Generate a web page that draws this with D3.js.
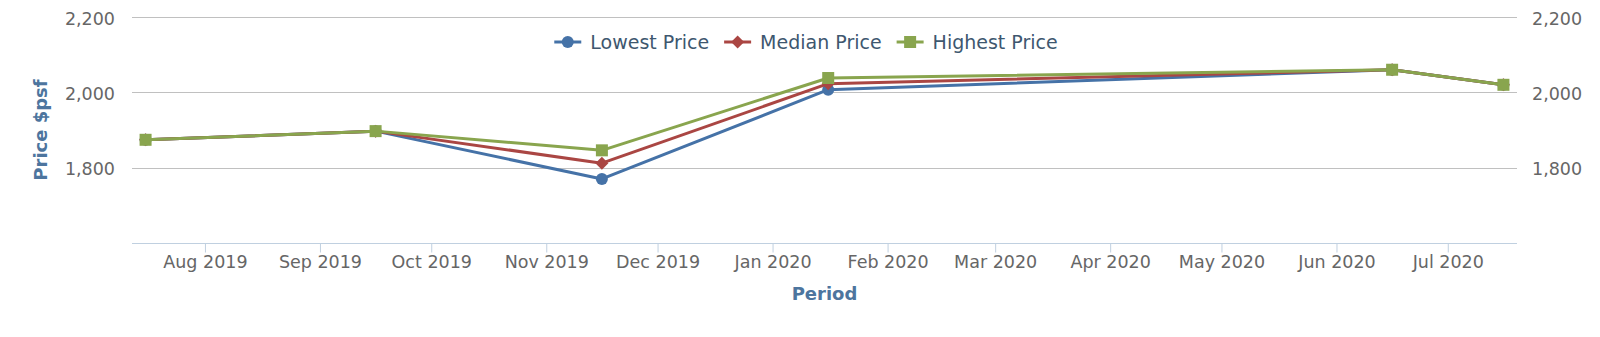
<!DOCTYPE html>
<html>
<head>
<meta charset="utf-8">
<script src="https://cdn.jsdelivr.net/npm/d3@7/dist/d3.min.js"></script>
<style>
  html, body { margin: 0; padding: 0; background: #ffffff; }
  svg { display: block; font-family: "DejaVu Sans", Verdana, sans-serif; }
  svg text { font-family: "DejaVu Sans", Verdana, sans-serif; }
</style>
</head>
<body>
<svg id="chart" width="1600" height="337"></svg>
<script>
// ---- Data ----
const periods = ["2019-07-16", "2019-09-16", "2019-11-16", "2020-01-16", "2020-06-16", "2020-07-16"];
const lowestPrice  = [1874, 1897, 1770, 2007, 2060, 2020];
const medianPrice  = [1874, 1897, 1812, 2023, 2060, 2020];
const highestPrice = [1874, 1897, 1846, 2038, 2060, 2020];
const seriesNames  = ["Lowest Price", "Median Price", "Highest Price"];
const yTicks = [1800, 2000, 2200];
const xTickMonths = ["2019-08-01","2019-09-01","2019-10-01","2019-11-01","2019-12-01","2020-01-01",
                     "2020-02-01","2020-03-01","2020-04-01","2020-05-01","2020-06-01","2020-07-01"];

// ---- Layout ----
const W = 1600, H = 337;
const plot = { left: 132, right: 1517, top: 17, bottom: 243 };
const colors = ["#4572A7", "#AA4643", "#89A54E"];
const markers = ["circle", "diamond", "square"];
const FONT = '"DejaVu Sans", Verdana, sans-serif';

const svg = d3.select("#chart");
const parse = d3.utcParse("%Y-%m-%d");
const dates = periods.map(parse);

const ext = d3.extent(dates);
const pad = (ext[1] - ext[0]) * 0.01;
const x = d3.scaleUtc()
  .domain([new Date(+ext[0] - pad), new Date(+ext[1] + pad)])
  .range([plot.left, plot.right]);
const y = d3.scaleLinear().domain([1600, 2200]).range([plot.bottom, plot.top]);

// gridlines
svg.append("g").selectAll("line").data(yTicks).join("line")
  .attr("x1", plot.left).attr("x2", plot.right)
  .attr("y1", d => Math.round(y(d)) + 0.5).attr("y2", d => Math.round(y(d)) + 0.5)
  .attr("stroke", "#C0C0C0").attr("stroke-width", 1);

// left / right y axis labels
const fmt = d3.format(",");
const yLeft = svg.append("g")
  .attr("transform", `translate(${plot.left - 17},0)`)
  .call(d3.axisLeft(y).tickValues(yTicks).tickFormat(fmt).tickSize(0).tickPadding(0))
  .attr("font-family", FONT).attr("font-size", 17.5);
yLeft.select(".domain").remove();
yLeft.selectAll("text").attr("fill", "#666666").attr("dy", "0.4em");

const yRight = svg.append("g")
  .attr("transform", `translate(${plot.right + 15},0)`)
  .call(d3.axisRight(y).tickValues(yTicks).tickFormat(fmt).tickSize(0).tickPadding(0))
  .attr("font-family", FONT).attr("font-size", 17.5);
yRight.select(".domain").remove();
yRight.selectAll("text").attr("fill", "#666666").attr("dy", "0.4em");

// x axis
const xAxis = svg.append("g")
  .attr("transform", `translate(0,${plot.bottom + 0.5})`)
  .call(d3.axisBottom(x).tickValues(xTickMonths.map(parse)).tickFormat(d3.utcFormat("%b %Y"))
        .tickSize(9).tickSizeOuter(0).tickPadding(3))
  .attr("font-family", FONT).attr("font-size", 17.5);
xAxis.select(".domain").attr("stroke", "#C0D0E0").attr("d", `M${plot.left},0H${plot.right}`);
xAxis.selectAll(".tick line").attr("stroke", "#C0D0E0");
xAxis.selectAll("text").attr("fill", "#666666");

// axis titles
svg.append("text")
  .attr("transform", `translate(47,${(plot.top + plot.bottom) / 2}) rotate(-90)`)
  .attr("text-anchor", "middle")
  .attr("fill", "#4D759E").style("font-weight", "bold").style("font-size", "18px")
  .text("Price $psf");
svg.append("text")
  .attr("x", (plot.left + plot.right) / 2).attr("y", 300)
  .attr("text-anchor", "middle")
  .attr("fill", "#4D759E").style("font-weight", "bold").style("font-size", "18px")
  .text("Period");

// series
const allSeries = [lowestPrice, medianPrice, highestPrice];
const line = d3.line().x(d => x(d.date)).y(d => y(d.value));

function drawMarker(g, type, color, cx, cy) {
  if (type === "circle") {
    g.append("circle").attr("cx", cx).attr("cy", cy).attr("r", 6).attr("fill", color);
  } else if (type === "diamond") {
    g.append("path").attr("d", `M${cx},${cy - 6.5}L${cx + 6.5},${cy}L${cx},${cy + 6.5}L${cx - 6.5},${cy}Z`).attr("fill", color);
  } else {
    g.append("rect").attr("x", cx - 6).attr("y", cy - 6).attr("width", 12).attr("height", 12).attr("fill", color);
  }
}

allSeries.forEach((vals, i) => {
  const pts = vals.map((v, j) => ({ date: dates[j], value: v }));
  const g = svg.append("g");
  g.append("path").datum(pts).attr("d", line)
    .attr("fill", "none").attr("stroke", colors[i]).attr("stroke-width", 3)
    .attr("stroke-linejoin", "round").attr("stroke-linecap", "round");
  pts.forEach(p => drawMarker(g, markers[i], colors[i], x(p.date), y(p.value)));
});

// legend
const legend = svg.append("g");
let cursor = 0;
const legendY = 42;
seriesNames.forEach((name, i) => {
  const it = legend.append("g");
  it.append("line").attr("x1", cursor).attr("x2", cursor + 27).attr("y1", legendY).attr("y2", legendY)
    .attr("stroke", colors[i]).attr("stroke-width", 3);
  drawMarker(it, markers[i], colors[i], cursor + 13.5, legendY);
  const t = it.append("text").attr("x", cursor + 36).attr("y", legendY + 6.5)
    .attr("fill", "#3E576F").style("font-size", "19px").text(name);
  cursor += 36 + t.node().getComputedTextLength() + 15;
});
const legendWidth = cursor - 15;
legend.attr("transform", `translate(${806 - legendWidth / 2},0)`);
</script>
</body>
</html>
